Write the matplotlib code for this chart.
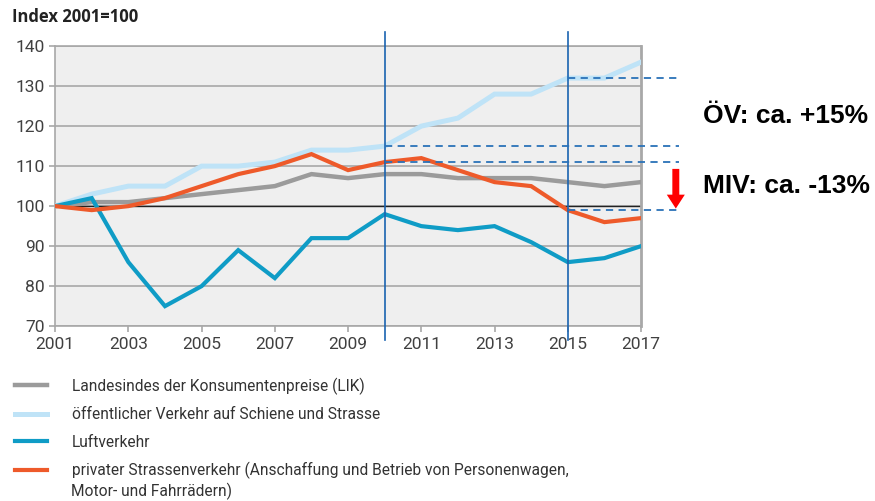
import matplotlib.pyplot as plt
import numpy as np

years = np.arange(2001, 2018)
lik = [100, 101, 101, 102, 103, 104, 105, 108, 107, 108, 108, 107, 107, 107, 106, 105, 106]
oev = [100, 103, 105, 105, 110, 110, 111, 114, 114, 115, 120, 122, 128, 128, 132, 132, 136]
luft = [100, 102, 86, 75, 80, 89, 82, 92, 92, 98, 95, 94, 95, 91, 86, 87, 90]
miv = [100, 99, 100, 102, 105, 108, 110, 113, 109, 111, 112, 109, 106, 105, 99, 96, 97]

labels = ["Landesindes der Konsumentenpreise (LIK)",
          "öffentlicher Verkehr auf Schiene und Strasse",
          "Luftverkehr",
          "privater Strassenverkehr (Anschaffung und Betrieb von Personenwagen,"]
label_cont = "Motor- und Fahrrädern)"
colors = ["#9b9b9b", "#bfe3f7", "#0f9cc6", "#ee5a2a"]

# reference marks
marker_years = [2010, 2015]
ref_levels = [(2015, 132), (2010, 115), (2010, 111), (2015, 99)]

plt.rcParams['font.family'] = ['Roboto', 'DejaVu Sans']

fig = plt.figure(figsize=(8.75, 5.01), dpi=100)
ax = fig.add_axes([0.063, 0.349, 0.6696, 0.559])
ax.set_facecolor("#efefef")

ax.set_xlim(2001, 2017)
ax.set_ylim(70, 140)
ax.set_yticks(range(70, 141, 10))
ax.set_xticks(range(2001, 2018, 2))
ax.grid(axis='y', color="#a8a8a8", lw=1.2)
ax.set_axisbelow(True)
ax.axhline(100, color="#222222", lw=1.0, zorder=2)

for sp in ax.spines.values():
    sp.set_color("#a8a8a8")
    sp.set_linewidth(1.2)
ax.spines['right'].set_linewidth(2)
ax.tick_params(colors="#a8a8a8", labelcolor="#404040", labelsize=12.5, length=4, width=1.2)

series = [lik, oev, luft, miv]
widths = [3.2, 3.6, 3.0, 3.0]
handles = []
for vals, c, w, lab in zip(series, colors, widths, labels):
    h, = ax.plot(years, vals, color=c, lw=w, label=lab, zorder=3, solid_joinstyle='miter')
    handles.append(h)

for yr in marker_years:
    ax.plot([yr, yr], [66.5, 143.5], color="#1a63b0", lw=1.2, clip_on=False, zorder=5)
for yr, lvl in ref_levels:
    ax.plot([yr, 2018.05], [lvl, lvl], color="#2a72b8", lw=1.3, ls=(0, (4, 3)),
            clip_on=False, zorder=5)

ax.annotate("", xy=(2017.95, 98.7), xytext=(2017.95, 110),
            arrowprops=dict(arrowstyle="simple,head_width=1.3,head_length=1.0,tail_width=0.5",
                            color="#ff0000", lw=0), annotation_clip=False)

fig.text(0.014, 0.966, "Index 2001=100", fontsize=12, fontweight='bold', color="#222222",
         va='center', family=['Open Sans', 'DejaVu Sans'])
fig.text(0.803, 0.768, "ÖV: ca. +15%", fontsize=19, fontweight='bold',
         family=['Liberation Sans', 'DejaVu Sans'], va='center')
fig.text(0.803, 0.628, "MIV: ca. -13%", fontsize=19, fontweight='bold',
         family=['Liberation Sans', 'DejaVu Sans'], va='center')

leg = fig.legend(handles=handles, loc='upper left', bbox_to_anchor=(0.008, 0.262), frameon=False,
                 fontsize=11.2, handlelength=2.1, handletextpad=1.55, labelspacing=0.8,
                 borderpad=0)
for t in leg.get_texts():
    t.set_color("#333333")
fig.text(0.0815, 0.02, label_cont, fontsize=11.2, color="#333333", va='center')

fig.savefig("out.png", dpi=100)
